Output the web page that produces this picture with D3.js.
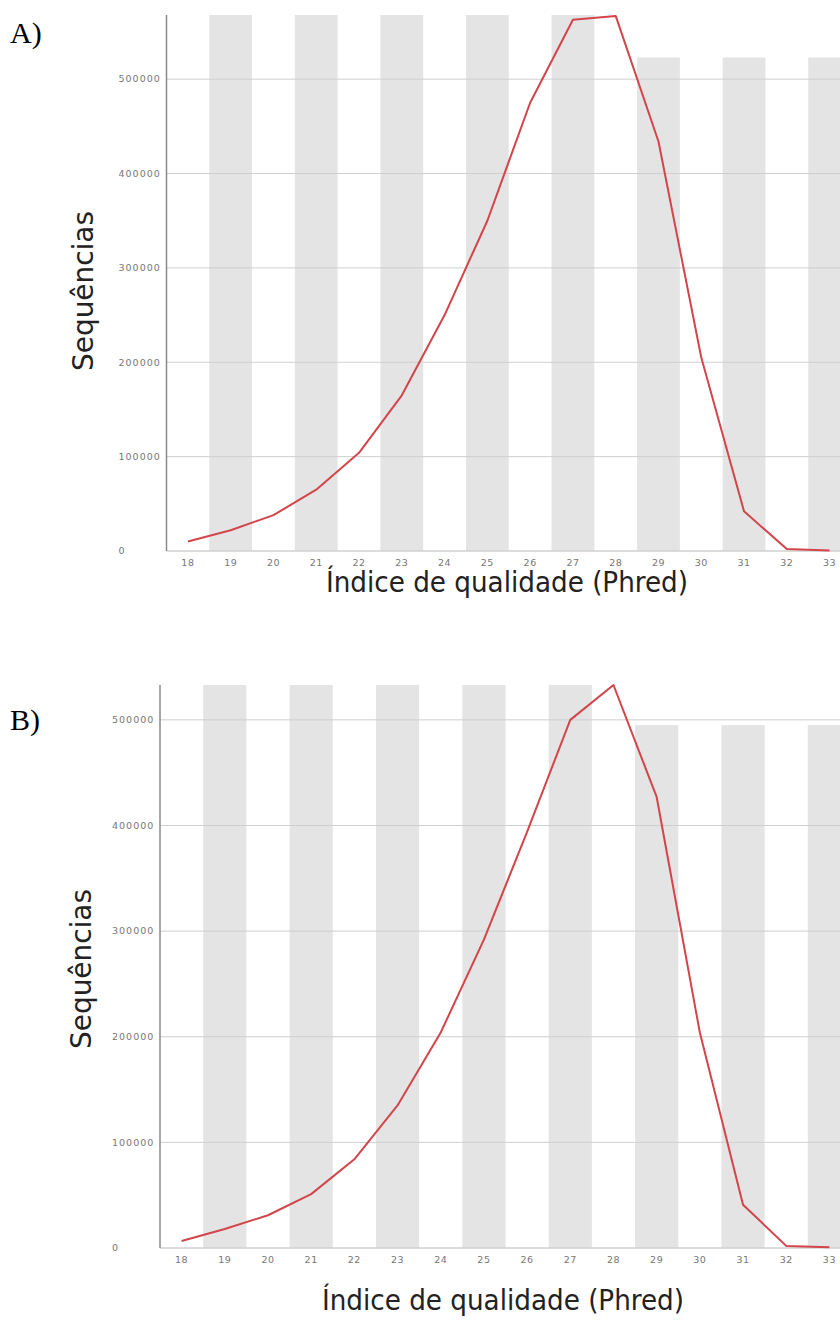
<!DOCTYPE html>
<html>
<head>
<meta charset="utf-8">
<script src="https://cdn.jsdelivr.net/npm/d3@7"></script>
<style>
  html, body { margin: 0; padding: 0; background: #fff; }
  svg { display: block; }
</style>
</head>
<body>
<svg id="chart" width="840" height="1322"></svg>
<script>
const categories = [18, 19, 20, 21, 22, 23, 24, 25, 26, 27, 28, 29, 30, 31, 32, 33];
const seriesA = [10000, 22000, 38000, 65000, 104000, 165000, 250000, 350000, 475000, 563000, 567000, 434000, 205000, 42000, 2000, 500];
const seriesB = [6600, 18000, 31000, 51000, 84000, 135000, 204000, 292000, 394000, 500000, 533000, 427000, 204000, 41000, 2000, 800];
const shadedCategories = [19, 21, 23, 25, 27, 29, 31, 33];
const bandValuesA = [568000, 568000, 568000, 568000, 568000, 523000, 523000, 523000];
const bandValuesB = [533000, 533000, 533000, 533000, 533000, 495000, 495000, 495000];
const yTicks = [0, 100000, 200000, 300000, 400000, 500000];
const panelLabels = ["A)", "B)"];
const xTitle = "Índice de qualidade  (Phred)";
const yTitle = "Sequências";

const svg = d3.select("#chart");

function drawPanel(cfg) {
  const g = svg.append("g");
  const x = d3.scaleBand().domain(categories).range([cfg.left, cfg.right]).padding(0);
  const y = d3.scaleLinear().domain([0, cfg.yMax]).range([cfg.bottom, cfg.top]);

  // shaded bands
  g.selectAll("rect.band").data(shadedCategories.map((c, i) => ({c, v: cfg.bands[i]})))
    .enter().append("rect")
    .attr("x", d => x(d.c)).attr("width", x.bandwidth())
    .attr("y", d => y(d.v)).attr("height", d => y(0) - y(d.v))
    .attr("fill", "#e4e4e4");

  // gridlines
  g.selectAll("line.grid").data(yTicks.filter(t => t > 0)).enter().append("line")
    .attr("x1", cfg.left).attr("x2", 840)
    .attr("y1", d => y(d)).attr("y2", d => y(d))
    .attr("stroke", "#cfcfcf").attr("stroke-width", 1);

  // x axis line
  g.append("line").attr("x1", cfg.left).attr("x2", 840)
    .attr("y1", y(0)).attr("y2", y(0)).attr("stroke", "#d0d0d0").attr("stroke-width", 1.5);

  // y axis line
  g.append("line").attr("x1", cfg.left).attr("x2", cfg.left)
    .attr("y1", cfg.top).attr("y2", y(0)).attr("stroke", "#8a8a8a").attr("stroke-width", 1.5);

  // y tick labels
  g.selectAll("text.yt").data(yTicks).enter().append("text")
    .attr("x", cfg.left - 48).attr("y", d => y(d)).attr("dy", "0.35em")
    .attr("font-family", "DejaVu Sans, sans-serif").attr("font-size", 9.5)
    .attr("letter-spacing", 1)
    .attr("fill", "#777").text(d => d);

  // x tick labels
  g.selectAll("text.xt").data(categories).enter().append("text")
    .attr("x", d => x(d) + x.bandwidth() / 2).attr("y", y(0) + 12).attr("dy", "0.35em")
    .attr("text-anchor", "middle")
    .attr("font-family", "DejaVu Sans, sans-serif").attr("font-size", 9.5)
    .attr("letter-spacing", 0.5)
    .attr("fill", "#777").text(d => d);

  // line
  const line = d3.line().x((d, i) => x(categories[i]) + x.bandwidth() / 2).y(d => y(d));
  g.append("path").datum(cfg.series).attr("d", line)
    .attr("fill", "none").attr("stroke", "#d2454a").attr("stroke-width", 2)
    .attr("stroke-linejoin", "round");

  // axis titles
  g.append("text").attr("x", cfg.xTitleX).attr("y", cfg.xTitleY)
    .attr("text-anchor", "middle")
    .attr("font-family", "DejaVu Sans Condensed, DejaVu Sans, sans-serif").attr("font-size", 28)
    .attr("textLength", 362).attr("lengthAdjust", "spacingAndGlyphs")
    .attr("fill", "#222").text(xTitle);
  g.append("text")
    .attr("transform", `translate(${cfg.yTitleX},${cfg.yTitleY}) rotate(-90)`)
    .attr("text-anchor", "middle")
    .attr("font-family", "DejaVu Sans Condensed, DejaVu Sans, sans-serif").attr("font-size", 28)
    .attr("textLength", 160).attr("lengthAdjust", "spacingAndGlyphs")
    .attr("fill", "#222").text(yTitle);

  // panel label
  g.append("text").attr("x", 10).attr("y", cfg.labelY)
    .attr("font-family", "Liberation Serif, Times New Roman, serif").attr("font-size", 30)
    .attr("fill", "#000").text(cfg.label);
}

drawPanel({left: 166.5, right: 851, top: 15, bottom: 551, yMax: 568000,
  series: seriesA, bands: bandValuesA, label: panelLabels[0], labelY: 43,
  xTitleX: 507, xTitleY: 592, yTitleX: 93, yTitleY: 291});
drawPanel({left: 160, right: 851, top: 685, bottom: 1248, yMax: 533000,
  series: seriesB, bands: bandValuesB, label: panelLabels[1], labelY: 730,
  xTitleX: 503, xTitleY: 1310, yTitleX: 91, yTitleY: 969});
</script>
</body>
</html>
